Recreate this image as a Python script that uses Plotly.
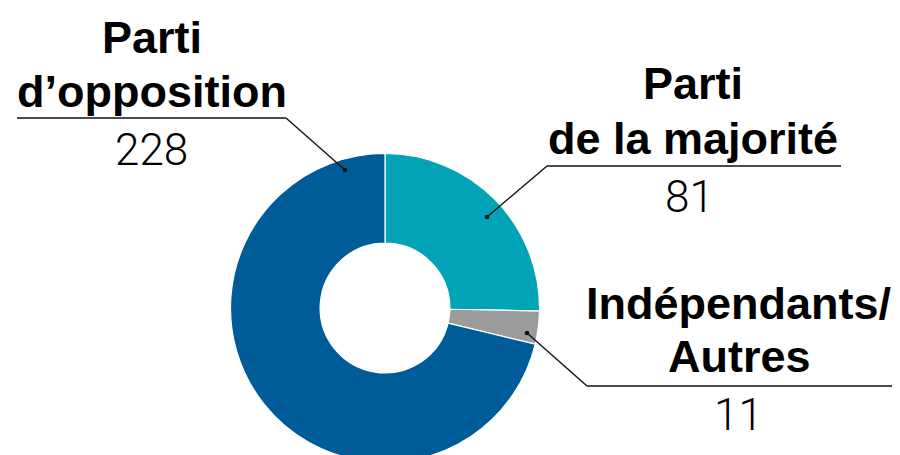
import plotly.graph_objects as go

# ---- data ----
categories = ["Parti de la majorité", "Indépendants/Autres", "Parti d’opposition"]
seats = [81, 11, 228]
colors = ["#00A4B6", "#9B9B9B", "#005C99"]
label_lines = [["Parti", "de la majorité"], ["Indépendants/", "Autres"], ["Parti", "d’opposition"]]

W, H = 900, 455
OFF = 8  # page body margin


def P(x, y):
    return (x - OFF) / W, 1 - (y - OFF) / H


fig = go.Figure()

# donut geometry (page px)
cx, cy, r = 385, 308, 154.5
x0, _ = P(cx - r, 0)
x1, _ = P(cx + r, 0)
_, y1 = P(0, cy - r)
_, y0 = P(0, cy + r)
y0 = max(0.0, y0)

fig.add_trace(go.Pie(
    labels=categories, values=seats, sort=False, direction="clockwise", rotation=0,
    hole=0.42, marker=dict(colors=colors, line=dict(color="white", width=1.2)),
    textinfo="none", hoverinfo="label+value", showlegend=False,
    domain=dict(x=[x0, x1], y=[y0, y1]),
))

BOLD = 45
NUM = 44
FAM = "Liberation Sans, Arial, sans-serif"

# label layout (page px): line centers/baselines, number, underline, dot
layout_spec = [
    dict(cx=693, base=[99, 154], num_cx=689, num_base=212, ul=(547, 841, 166), dot=(487, 217)),
    dict(cx=739, base=[319, 372], num_cx=738.5, num_base=430, ul=(587, 895, 386), dot=(527, 333)),
    dict(cx=152, base=[53, 107], num_cx=151.5, num_base=165, ul=(17, 286, 118), dot=(345, 170)),
]

shapes = []
annotations = []
for i, spec in enumerate(layout_spec):
    for line, b in zip(label_lines[i], spec["base"]):
        ax, ay = P(spec["cx"], b - 0.3465 * BOLD)
        annotations.append(dict(x=ax, y=ay, xref="paper", yref="paper", text=line, showarrow=False,
                                xanchor="center", yanchor="middle",
                                font=dict(family=FAM, size=BOLD, color="#000", weight="bold")))
    ax, ay = P(spec["num_cx"], spec["num_base"] - 0.3465 * NUM)
    annotations.append(dict(x=ax, y=ay, xref="paper", yref="paper", text=str(seats[i]), showarrow=False,
                            xanchor="center", yanchor="middle",
                            font=dict(family="Roboto, Liberation Sans, sans-serif", size=NUM, color="#000", weight=300)))
    ux0, ux1, uy = spec["ul"]
    # underline
    a, b_ = P(ux0, uy)
    c, d = P(ux1, uy)
    shapes.append(dict(type="line", xref="paper", yref="paper", x0=a, y0=b_, x1=c, y1=d,
                       line=dict(color="#111", width=1.4)))
    # leader line
    dx, dy = spec["dot"]
    endx = ux1 if i == 2 else ux0
    a, b_ = P(endx, uy)
    c, d = P(dx, dy)
    shapes.append(dict(type="line", xref="paper", yref="paper", x0=a, y0=b_, x1=c, y1=d,
                       line=dict(color="#111", width=1.4)))
    # dot
    rr = 2.3
    a, b_ = P(dx - rr, dy + rr)
    c, d = P(dx + rr, dy - rr)
    shapes.append(dict(type="circle", xref="paper", yref="paper", x0=a, y0=b_, x1=c, y1=d,
                       fillcolor="#111", line=dict(width=0)))

fig.update_layout(
    width=W, height=H, margin=dict(l=0, r=0, t=0, b=0),
    paper_bgcolor="white", plot_bgcolor="white",
    shapes=shapes, annotations=annotations,
)

fig.write_html("out.html")
